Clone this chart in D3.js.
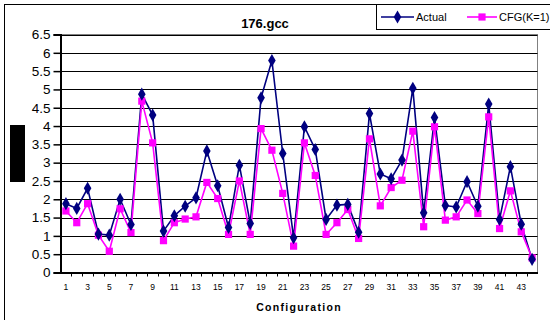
<!DOCTYPE html>
<html>
<head>
<meta charset="utf-8">
<script src="https://cdn.jsdelivr.net/npm/d3@7"></script>
<style>
  html, body { margin: 0; padding: 0; background: #fff; }
  svg { display: block; }
  text { font-family: "Liberation Sans", Arial, sans-serif; }
</style>
</head>
<body>
<script>
// ---- data ----
const configurations = d3.range(1, 45);
const actual = [1.88, 1.75, 2.30, 1.05, 1.02, 2.00, 1.31, 4.87, 4.30, 1.13,
                1.55, 1.81, 2.04, 3.32, 2.37, 1.23, 2.93, 1.34, 4.77, 5.79,
                3.25, 0.95, 3.98, 3.36, 1.45, 1.84, 1.86, 1.10, 4.34, 2.69,
                2.56, 3.07, 5.03, 1.63, 4.23, 1.83, 1.79, 2.48, 1.81, 4.60,
                1.45, 2.89, 1.32, 0.36];
const cfg    = [1.68, 1.36, 1.88, 1.02, 0.58, 1.74, 1.09, 4.68, 3.54, 0.87,
                1.36, 1.46, 1.52, 2.46, 2.02, 1.04, 2.50, 1.04, 3.93, 3.34,
                2.16, 0.72, 3.54, 2.65, 1.04, 1.36, 1.72, 0.93, 3.65, 1.82,
                2.32, 2.52, 3.86, 1.25, 3.98, 1.43, 1.52, 1.98, 1.61, 4.25,
                1.20, 2.23, 1.11, 0.40];
const yTicks = [0, 0.5, 1, 1.5, 2, 2.5, 3, 3.5, 4, 4.5, 5, 5.5, 6, 6.5];
const seriesNames = ["Actual", "CFG(K=1)"];
const chartTitle = "176.gcc";
const xTitle = "Configuration";

const W = 550, H = 320;
const plot = { left: 60.5, right: 537.5, top: 34.5, bottom: 272.5 };
const navy = "#000080", magenta = "#FF00FF";

const svg = d3.select("body").append("svg").attr("width", W).attr("height", H);

// outer chart border
svg.append("rect").attr("x", 4.5).attr("y", 4.5).attr("width", 560).attr("height", 330)
  .attr("fill", "none").attr("stroke", "#000").attr("stroke-width", 1);

const x = d3.scaleBand().domain(configurations).range([plot.left, plot.right]).paddingInner(0).paddingOuter(0);
const y = d3.scaleLinear().domain([0, 6.5]).range([plot.bottom, plot.top]);
const cx = d => x(d) + x.bandwidth() / 2;

// plot area border (gray)
svg.append("rect").attr("x", plot.left).attr("y", plot.top)
  .attr("width", plot.right - plot.left).attr("height", plot.bottom - plot.top)
  .attr("fill", "#fff").attr("stroke", "#808080").attr("stroke-width", 1);

// gridlines
svg.append("g").selectAll("line").data(yTicks.filter(t => t > 0)).join("line")
  .attr("x1", plot.left).attr("x2", plot.right)
  .attr("y1", d => Math.round(y(d)) + 0.5).attr("y2", d => Math.round(y(d)) + 0.5)
  .attr("stroke", "#000").attr("stroke-width", 1);

// y axis
const yAxis = d3.axisLeft(y).tickValues(yTicks).tickSize(7).tickPadding(3)
  .tickFormat(d3.format("~g"));
const gy = svg.append("g").attr("transform", `translate(${plot.left},0)`).call(yAxis);
gy.select(".domain").attr("stroke", "#000").attr("stroke-width", 2);
gy.selectAll(".tick line").attr("stroke", "#000").attr("stroke-width", 1.5);
gy.selectAll(".tick text").attr("font-size", "13.5px").attr("fill", "#000")
  .attr("font-family", "'Liberation Sans', Arial, sans-serif");

// x axis
const xAxis = d3.axisBottom(x).tickSize(0).tickPadding(11)
  .tickFormat(d => (d % 2 === 1 ? d : ""));
const gx = svg.append("g").attr("transform", `translate(0,${plot.bottom})`).call(xAxis);
gx.select(".domain").attr("stroke", "#000").attr("stroke-width", 2);
gx.selectAll(".tick text").attr("font-size", "8.5px").attr("fill", "#000")
  .attr("font-family", "'Liberation Sans', Arial, sans-serif");
// category boundary tick marks
gx.append("g").selectAll("line").data(configurations.slice(1)).join("line")
  .attr("x1", d => Math.round(x(d)) + 0.5).attr("x2", d => Math.round(x(d)) + 0.5)
  .attr("y1", 0).attr("y2", 4).attr("stroke", "#000").attr("stroke-width", 1);

// series lines
const line = d3.line().x((d, i) => cx(configurations[i])).y(d => y(d));
svg.append("path").datum(actual).attr("d", line)
  .attr("fill", "none").attr("stroke", navy).attr("stroke-width", 1.6);
svg.append("path").datum(cfg).attr("d", line)
  .attr("fill", "none").attr("stroke", magenta).attr("stroke-width", 1.6);

// markers
svg.append("g").selectAll("path").data(cfg).join("path")
  .attr("d", d3.symbol().type(d3.symbolSquare).size(52))
  .attr("transform", (d, i) => `translate(${cx(configurations[i])},${y(d)})`)
  .attr("fill", magenta);
svg.append("g").selectAll("path").data(actual).join("path")
  .attr("d", d3.symbol().type(d3.symbolDiamond).size(50))
  .attr("transform", (d, i) => `translate(${cx(configurations[i])},${y(d)})`)
  .attr("fill", navy);

// title
svg.append("text").attr("x", 265).attr("y", 28).attr("text-anchor", "middle")
  .attr("font-size", "13px").attr("font-weight", "bold").text(chartTitle);

// x title
svg.append("text").attr("x", 299).attr("y", 311).attr("text-anchor", "middle")
  .attr("font-size", "10.5px").attr("font-weight", "bold").attr("letter-spacing", "1.3px")
  .text(xTitle);

// redacted y title block
svg.append("rect").attr("x", 10).attr("y", 125).attr("width", 15).attr("height", 57).attr("fill", "#000");

// legend
const lg = svg.append("g");
lg.append("rect").attr("x", 376.5).attr("y", 4.5).attr("width", 180).attr("height", 25)
  .attr("fill", "#fff").attr("stroke", "#000").attr("stroke-width", 1);
const legendItems = [
  { name: seriesNames[0], color: navy, sym: d3.symbolDiamond, size: 50, x0: 381, x1: 414, tx: 416 },
  { name: seriesNames[1], color: magenta, sym: d3.symbolSquare, size: 52, x0: 467, x1: 497, tx: 499 }
];
legendItems.forEach(it => {
  lg.append("line").attr("x1", it.x0).attr("x2", it.x1).attr("y1", 17).attr("y2", 17)
    .attr("stroke", it.color).attr("stroke-width", 1.6);
  lg.append("path").attr("d", d3.symbol().type(it.sym).size(it.size)())
    .attr("transform", `translate(${(it.x0 + it.x1) / 2},17)`).attr("fill", it.color);
  lg.append("text").attr("x", it.tx).attr("y", 21).attr("font-size", "11px").text(it.name);
});
</script>
</body>
</html>
